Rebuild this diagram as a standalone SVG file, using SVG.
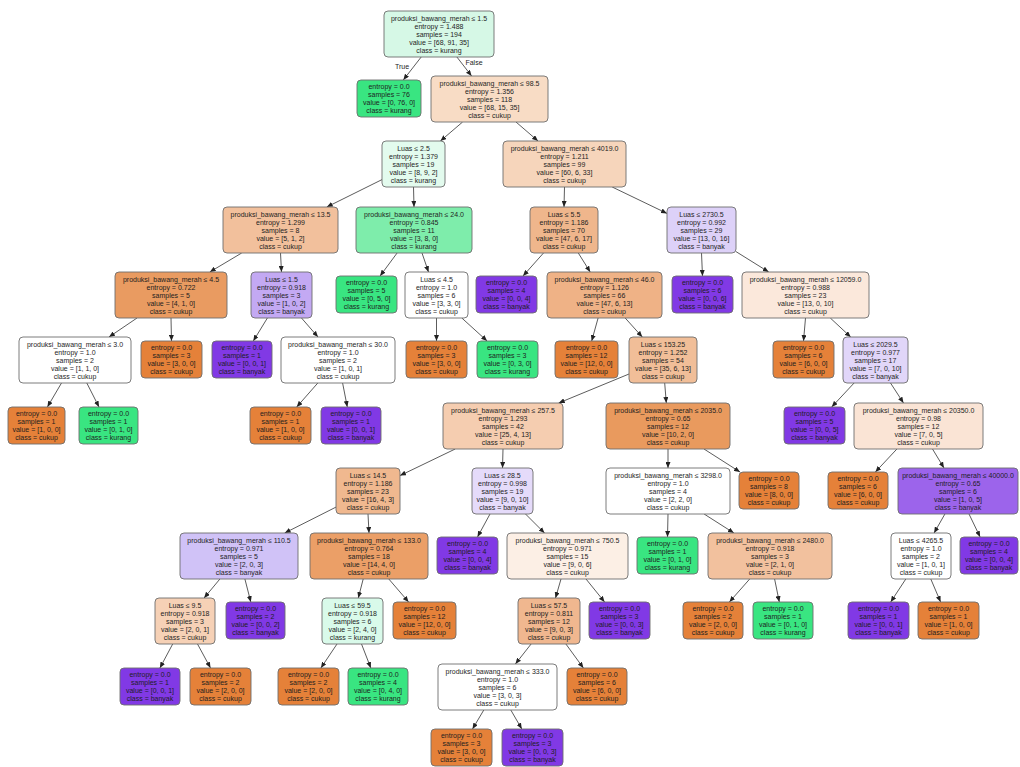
<svg xmlns="http://www.w3.org/2000/svg" width="1020" height="767" viewBox="0 0 1020 767">
<style>
rect{stroke:#6e6e6e;stroke-width:0.9}
text{font-family:"Liberation Sans",Arial,sans-serif;font-size:7px;fill:#1e1e1e;text-anchor:middle}
.o{fill:#e58139}.g{fill:#39e581}.p{fill:#8139e5}.w{fill:#ffffff}
#edges line{stroke:#4a4a4a;stroke-width:0.9;marker-end:url(#ah)}
</style>
<defs>
<marker id="ah" markerWidth="6" markerHeight="5" refX="6" refY="2.5" orient="auto" markerUnits="userSpaceOnUse"><path d="M0,0L6,2.5L0,5z" fill="#222"/></marker>
</defs>
<rect x="0" y="0" width="1020" height="767" style="fill:#fff;stroke:none"/>
<g id="edges">
<line x1="421.2" y1="57" x2="403.3" y2="80"/>
<line x1="456.9" y1="57" x2="471.6" y2="76"/>
<line x1="462.6" y1="122" x2="440.4" y2="141"/>
<line x1="516" y1="122" x2="538" y2="141"/>
<line x1="382" y1="179.6" x2="326.8" y2="207"/>
<line x1="413.5" y1="187" x2="414" y2="207"/>
<line x1="564.5" y1="187" x2="564" y2="207"/>
<line x1="612.2" y1="187" x2="667" y2="213.4"/>
<line x1="241.7" y1="253" x2="209.8" y2="272"/>
<line x1="280.5" y1="253" x2="281.5" y2="272"/>
<line x1="397.1" y1="253" x2="380.1" y2="276"/>
<line x1="422" y1="253" x2="428.5" y2="272"/>
<line x1="543.5" y1="253" x2="523" y2="276"/>
<line x1="578.3" y1="253" x2="590.2" y2="272"/>
<line x1="701.5" y1="253" x2="702.5" y2="276"/>
<line x1="736" y1="251.6" x2="768.7" y2="272"/>
<line x1="137" y1="318" x2="109" y2="337"/>
<line x1="171" y1="318" x2="171.5" y2="341"/>
<line x1="267.4" y1="318" x2="253.3" y2="341"/>
<line x1="301.5" y1="318" x2="318" y2="337"/>
<line x1="436.5" y1="318" x2="436.5" y2="341"/>
<line x1="461.8" y1="318" x2="487.1" y2="341"/>
<line x1="598.1" y1="318" x2="591.7" y2="341"/>
<line x1="625.2" y1="318" x2="642.3" y2="337"/>
<line x1="805.5" y1="318" x2="803.5" y2="341"/>
<line x1="830.3" y1="318" x2="850.7" y2="337"/>
<line x1="61.5" y1="383" x2="47.4" y2="407"/>
<line x1="86.8" y1="383" x2="99" y2="407"/>
<line x1="317.8" y1="383" x2="296.7" y2="407"/>
<line x1="342.6" y1="383" x2="347.3" y2="407"/>
<line x1="629" y1="374" x2="558.7" y2="403"/>
<line x1="664.7" y1="383" x2="666.3" y2="403"/>
<line x1="854.1" y1="383" x2="831.7" y2="407"/>
<line x1="890.5" y1="383" x2="903.5" y2="403"/>
<line x1="455.2" y1="449" x2="400" y2="475.6"/>
<line x1="503" y1="449" x2="502.5" y2="468"/>
<line x1="668" y1="449" x2="668" y2="468"/>
<line x1="704" y1="449" x2="740" y2="472"/>
<line x1="896.9" y1="449" x2="875.4" y2="472"/>
<line x1="932.5" y1="449" x2="944" y2="468"/>
<line x1="336" y1="507.1" x2="284.7" y2="533"/>
<line x1="368" y1="514" x2="369" y2="533"/>
<line x1="490" y1="514" x2="477.5" y2="537"/>
<line x1="525.5" y1="514" x2="544.5" y2="533"/>
<line x1="668" y1="514" x2="667.5" y2="537"/>
<line x1="704.1" y1="514" x2="733.9" y2="533"/>
<line x1="944.9" y1="514" x2="934.1" y2="533"/>
<line x1="969" y1="514" x2="980.1" y2="537"/>
<line x1="219.9" y1="579" x2="204.1" y2="598"/>
<line x1="244.9" y1="579" x2="250.8" y2="602"/>
<line x1="363.2" y1="579" x2="358.3" y2="598"/>
<line x1="388.8" y1="579" x2="408.6" y2="602"/>
<line x1="561" y1="579" x2="555.5" y2="598"/>
<line x1="586" y1="579" x2="604.6" y2="602"/>
<line x1="749.7" y1="579" x2="729.4" y2="602"/>
<line x1="774.6" y1="579" x2="779.3" y2="602"/>
<line x1="905.8" y1="579" x2="890.7" y2="602"/>
<line x1="930.8" y1="579" x2="940.6" y2="602"/>
<line x1="172.7" y1="644" x2="159.9" y2="668"/>
<line x1="197.5" y1="644" x2="210.5" y2="668"/>
<line x1="337" y1="644" x2="320.9" y2="668"/>
<line x1="361.5" y1="644" x2="370.8" y2="668"/>
<line x1="531.1" y1="644" x2="515.4" y2="664"/>
<line x1="565.9" y1="644" x2="583.4" y2="668"/>
<line x1="483.8" y1="710" x2="472.5" y2="729"/>
<line x1="510.8" y1="710" x2="521.8" y2="729"/>
<text x="402" y="69">True</text>
<text x="474" y="65">False</text>
</g>
<g id="n0"><rect x="384" y="11" width="110" height="46" rx="4" fill="#d6f8e6"/><text x="439" y="20.5"><tspan x="439">produksi_bawang_merah ≤ 1.5</tspan><tspan x="439" dy="8">entropy = 1.488</tspan><tspan x="439" dy="8">samples = 194</tspan><tspan x="439" dy="8">value = [68, 91, 35]</tspan><tspan x="439" dy="8">class = kurang</tspan></text></g>
<g id="n1"><rect class="g" x="357" y="80" width="64" height="37" rx="4"/><text x="389" y="89"><tspan x="389">entropy = 0.0</tspan><tspan x="389" dy="8">samples = 76</tspan><tspan x="389" dy="8">value = [0, 76, 0]</tspan><tspan x="389" dy="8">class = kurang</tspan></text></g>
<g id="n2"><rect x="431" y="76" width="117" height="46" rx="4" fill="#f8dcc5"/><text x="489.5" y="85.5"><tspan x="489.5">produksi_bawang_merah ≤ 98.5</tspan><tspan x="489.5" dy="8">entropy = 1.356</tspan><tspan x="489.5" dy="8">samples = 118</tspan><tspan x="489.5" dy="8">value = [68, 15, 35]</tspan><tspan x="489.5" dy="8">class = cukup</tspan></text></g>
<g id="n3"><rect x="382" y="141" width="63" height="46" rx="4" fill="#e3fbee"/><text x="413.5" y="150.5"><tspan x="413.5">Luas ≤ 2.5</tspan><tspan x="413.5" dy="8">entropy = 1.379</tspan><tspan x="413.5" dy="8">samples = 19</tspan><tspan x="413.5" dy="8">value = [8, 9, 2]</tspan><tspan x="413.5" dy="8">class = kurang</tspan></text></g>
<g id="n4"><rect x="503" y="141" width="123" height="46" rx="4" fill="#f6d5bb"/><text x="564.5" y="150.5"><tspan x="564.5">produksi_bawang_merah ≤ 4019.0</tspan><tspan x="564.5" dy="8">entropy = 1.211</tspan><tspan x="564.5" dy="8">samples = 99</tspan><tspan x="564.5" dy="8">value = [60, 6, 33]</tspan><tspan x="564.5" dy="8">class = cukup</tspan></text></g>
<g id="n5"><rect x="223" y="207" width="115" height="46" rx="4" fill="#f2c09c"/><text x="280.5" y="216.5"><tspan x="280.5">produksi_bawang_merah ≤ 13.5</tspan><tspan x="280.5" dy="8">entropy = 1.299</tspan><tspan x="280.5" dy="8">samples = 8</tspan><tspan x="280.5" dy="8">value = [5, 1, 2]</tspan><tspan x="280.5" dy="8">class = cukup</tspan></text></g>
<g id="n6"><rect x="356" y="207" width="116" height="46" rx="4" fill="#7eedab"/><text x="414" y="216.5"><tspan x="414">produksi_bawang_merah ≤ 24.0</tspan><tspan x="414" dy="8">entropy = 0.845</tspan><tspan x="414" dy="8">samples = 11</tspan><tspan x="414" dy="8">value = [3, 8, 0]</tspan><tspan x="414" dy="8">class = kurang</tspan></text></g>
<g id="n7"><rect x="530" y="207" width="68" height="46" rx="4" fill="#efb68c"/><text x="564" y="216.5"><tspan x="564">Luas ≤ 5.5</tspan><tspan x="564" dy="8">entropy = 1.186</tspan><tspan x="564" dy="8">samples = 70</tspan><tspan x="564" dy="8">value = [47, 6, 17]</tspan><tspan x="564" dy="8">class = cukup</tspan></text></g>
<g id="n8"><rect x="667" y="207" width="69" height="46" rx="4" fill="#ddd1f8"/><text x="701.5" y="216.5"><tspan x="701.5">Luas ≤ 2730.5</tspan><tspan x="701.5" dy="8">entropy = 0.992</tspan><tspan x="701.5" dy="8">samples = 29</tspan><tspan x="701.5" dy="8">value = [13, 0, 16]</tspan><tspan x="701.5" dy="8">class = banyak</tspan></text></g>
<g id="n9"><rect x="115" y="272" width="112" height="46" rx="4" fill="#e99b61"/><text x="171" y="281.5"><tspan x="171">produksi_bawang_merah ≤ 4.5</tspan><tspan x="171" dy="8">entropy = 0.722</tspan><tspan x="171" dy="8">samples = 5</tspan><tspan x="171" dy="8">value = [4, 1, 0]</tspan><tspan x="171" dy="8">class = cukup</tspan></text></g>
<g id="n10"><rect x="251" y="272" width="61" height="46" rx="4" fill="#c3a9f3"/><text x="281.5" y="281.5"><tspan x="281.5">Luas ≤ 1.5</tspan><tspan x="281.5" dy="8">entropy = 0.918</tspan><tspan x="281.5" dy="8">samples = 3</tspan><tspan x="281.5" dy="8">value = [1, 0, 2]</tspan><tspan x="281.5" dy="8">class = banyak</tspan></text></g>
<g id="n11"><rect class="g" x="336" y="276" width="61" height="37" rx="4"/><text x="366.5" y="285"><tspan x="366.5">entropy = 0.0</tspan><tspan x="366.5" dy="8">samples = 5</tspan><tspan x="366.5" dy="8">value = [0, 5, 0]</tspan><tspan x="366.5" dy="8">class = kurang</tspan></text></g>
<g id="n12"><rect class="w" x="405" y="272" width="63" height="46" rx="4"/><text x="436.5" y="281.5"><tspan x="436.5">Luas ≤ 4.5</tspan><tspan x="436.5" dy="8">entropy = 1.0</tspan><tspan x="436.5" dy="8">samples = 6</tspan><tspan x="436.5" dy="8">value = [3, 3, 0]</tspan><tspan x="436.5" dy="8">class = cukup</tspan></text></g>
<g id="n13"><rect class="p" x="476" y="276" width="61" height="37" rx="4"/><text x="506.5" y="285"><tspan x="506.5">entropy = 0.0</tspan><tspan x="506.5" dy="8">samples = 4</tspan><tspan x="506.5" dy="8">value = [0, 0, 4]</tspan><tspan x="506.5" dy="8">class = banyak</tspan></text></g>
<g id="n14"><rect x="547" y="272" width="115" height="46" rx="4" fill="#efb286"/><text x="604.5" y="281.5"><tspan x="604.5">produksi_bawang_merah ≤ 46.0</tspan><tspan x="604.5" dy="8">entropy = 1.126</tspan><tspan x="604.5" dy="8">samples = 66</tspan><tspan x="604.5" dy="8">value = [47, 6, 13]</tspan><tspan x="604.5" dy="8">class = cukup</tspan></text></g>
<g id="n15"><rect class="p" x="672" y="276" width="61" height="37" rx="4"/><text x="702.5" y="285"><tspan x="702.5">entropy = 0.0</tspan><tspan x="702.5" dy="8">samples = 6</tspan><tspan x="702.5" dy="8">value = [0, 0, 6]</tspan><tspan x="702.5" dy="8">class = banyak</tspan></text></g>
<g id="n16"><rect x="742" y="272" width="127" height="46" rx="4" fill="#fbe8db"/><text x="805.5" y="281.5"><tspan x="805.5">produksi_bawang_merah ≤ 12059.0</tspan><tspan x="805.5" dy="8">entropy = 0.988</tspan><tspan x="805.5" dy="8">samples = 23</tspan><tspan x="805.5" dy="8">value = [13, 0, 10]</tspan><tspan x="805.5" dy="8">class = cukup</tspan></text></g>
<g id="n17"><rect class="w" x="19" y="337" width="112" height="46" rx="4"/><text x="75" y="346.5"><tspan x="75">produksi_bawang_merah ≤ 3.0</tspan><tspan x="75" dy="8">entropy = 1.0</tspan><tspan x="75" dy="8">samples = 2</tspan><tspan x="75" dy="8">value = [1, 1, 0]</tspan><tspan x="75" dy="8">class = cukup</tspan></text></g>
<g id="n18"><rect class="o" x="141" y="341" width="61" height="37" rx="4"/><text x="171.5" y="350"><tspan x="171.5">entropy = 0.0</tspan><tspan x="171.5" dy="8">samples = 3</tspan><tspan x="171.5" dy="8">value = [3, 0, 0]</tspan><tspan x="171.5" dy="8">class = cukup</tspan></text></g>
<g id="n19"><rect class="p" x="212" y="341" width="60" height="37" rx="4"/><text x="242" y="350"><tspan x="242">entropy = 0.0</tspan><tspan x="242" dy="8">samples = 1</tspan><tspan x="242" dy="8">value = [0, 0, 1]</tspan><tspan x="242" dy="8">class = banyak</tspan></text></g>
<g id="n20"><rect class="w" x="281" y="337" width="114" height="46" rx="4"/><text x="338" y="346.5"><tspan x="338">produksi_bawang_merah ≤ 30.0</tspan><tspan x="338" dy="8">entropy = 1.0</tspan><tspan x="338" dy="8">samples = 2</tspan><tspan x="338" dy="8">value = [1, 0, 1]</tspan><tspan x="338" dy="8">class = cukup</tspan></text></g>
<g id="n21"><rect class="o" x="406" y="341" width="61" height="37" rx="4"/><text x="436.5" y="350"><tspan x="436.5">entropy = 0.0</tspan><tspan x="436.5" dy="8">samples = 3</tspan><tspan x="436.5" dy="8">value = [3, 0, 0]</tspan><tspan x="436.5" dy="8">class = cukup</tspan></text></g>
<g id="n22"><rect class="g" x="477" y="341" width="61" height="37" rx="4"/><text x="507.5" y="350"><tspan x="507.5">entropy = 0.0</tspan><tspan x="507.5" dy="8">samples = 3</tspan><tspan x="507.5" dy="8">value = [0, 3, 0]</tspan><tspan x="507.5" dy="8">class = kurang</tspan></text></g>
<g id="n23"><rect class="o" x="555" y="341" width="63" height="37" rx="4"/><text x="586.5" y="350"><tspan x="586.5">entropy = 0.0</tspan><tspan x="586.5" dy="8">samples = 12</tspan><tspan x="586.5" dy="8">value = [12, 0, 0]</tspan><tspan x="586.5" dy="8">class = cukup</tspan></text></g>
<g id="n24"><rect x="629" y="337" width="68" height="46" rx="4" fill="#f1be98"/><text x="663" y="346.5"><tspan x="663">Luas ≤ 153.25</tspan><tspan x="663" dy="8">entropy = 1.252</tspan><tspan x="663" dy="8">samples = 54</tspan><tspan x="663" dy="8">value = [35, 6, 13]</tspan><tspan x="663" dy="8">class = cukup</tspan></text></g>
<g id="n25"><rect class="o" x="773" y="341" width="61" height="37" rx="4"/><text x="803.5" y="350"><tspan x="803.5">entropy = 0.0</tspan><tspan x="803.5" dy="8">samples = 6</tspan><tspan x="803.5" dy="8">value = [6, 0, 0]</tspan><tspan x="803.5" dy="8">class = cukup</tspan></text></g>
<g id="n26"><rect x="843" y="337" width="65" height="46" rx="4" fill="#e1d6f9"/><text x="875.5" y="346.5"><tspan x="875.5">Luas ≤ 2029.5</tspan><tspan x="875.5" dy="8">entropy = 0.977</tspan><tspan x="875.5" dy="8">samples = 17</tspan><tspan x="875.5" dy="8">value = [7, 0, 10]</tspan><tspan x="875.5" dy="8">class = banyak</tspan></text></g>
<g id="n27"><rect class="o" x="8" y="407" width="57" height="37" rx="4"/><text x="36.5" y="416"><tspan x="36.5">entropy = 0.0</tspan><tspan x="36.5" dy="8">samples = 1</tspan><tspan x="36.5" dy="8">value = [1, 0, 0]</tspan><tspan x="36.5" dy="8">class = cukup</tspan></text></g>
<g id="n28"><rect class="g" x="79" y="407" width="59" height="37" rx="4"/><text x="108.5" y="416"><tspan x="108.5">entropy = 0.0</tspan><tspan x="108.5" dy="8">samples = 1</tspan><tspan x="108.5" dy="8">value = [0, 1, 0]</tspan><tspan x="108.5" dy="8">class = kurang</tspan></text></g>
<g id="n29"><rect class="o" x="250" y="407" width="61" height="37" rx="4"/><text x="280.5" y="416"><tspan x="280.5">entropy = 0.0</tspan><tspan x="280.5" dy="8">samples = 1</tspan><tspan x="280.5" dy="8">value = [1, 0, 0]</tspan><tspan x="280.5" dy="8">class = cukup</tspan></text></g>
<g id="n30"><rect class="p" x="321" y="407" width="60" height="37" rx="4"/><text x="351" y="416"><tspan x="351">entropy = 0.0</tspan><tspan x="351" dy="8">samples = 1</tspan><tspan x="351" dy="8">value = [0, 0, 1]</tspan><tspan x="351" dy="8">class = banyak</tspan></text></g>
<g id="n31"><rect x="443" y="403" width="120" height="46" rx="4" fill="#f5cdb0"/><text x="503" y="412.5"><tspan x="503">produksi_bawang_merah ≤ 257.5</tspan><tspan x="503" dy="8">entropy = 1.293</tspan><tspan x="503" dy="8">samples = 42</tspan><tspan x="503" dy="8">value = [25, 4, 13]</tspan><tspan x="503" dy="8">class = cukup</tspan></text></g>
<g id="n32"><rect x="606" y="403" width="124" height="46" rx="4" fill="#e99a5e"/><text x="668" y="412.5"><tspan x="668">produksi_bawang_merah ≤ 2035.0</tspan><tspan x="668" dy="8">entropy = 0.65</tspan><tspan x="668" dy="8">samples = 12</tspan><tspan x="668" dy="8">value = [10, 2, 0]</tspan><tspan x="668" dy="8">class = cukup</tspan></text></g>
<g id="n33"><rect class="p" x="784" y="407" width="61" height="37" rx="4"/><text x="814.5" y="416"><tspan x="814.5">entropy = 0.0</tspan><tspan x="814.5" dy="8">samples = 5</tspan><tspan x="814.5" dy="8">value = [0, 0, 5]</tspan><tspan x="814.5" dy="8">class = banyak</tspan></text></g>
<g id="n34"><rect x="854" y="403" width="129" height="46" rx="4" fill="#fae4d5"/><text x="918.5" y="412.5"><tspan x="918.5">produksi_bawang_merah ≤ 20350.0</tspan><tspan x="918.5" dy="8">entropy = 0.98</tspan><tspan x="918.5" dy="8">samples = 12</tspan><tspan x="918.5" dy="8">value = [7, 0, 5]</tspan><tspan x="918.5" dy="8">class = cukup</tspan></text></g>
<g id="n35"><rect x="336" y="468" width="64" height="46" rx="4" fill="#f0b88f"/><text x="368" y="477.5"><tspan x="368">Luas ≤ 14.5</tspan><tspan x="368" dy="8">entropy = 1.186</tspan><tspan x="368" dy="8">samples = 23</tspan><tspan x="368" dy="8">value = [16, 4, 3]</tspan><tspan x="368" dy="8">class = cukup</tspan></text></g>
<g id="n36"><rect x="472" y="468" width="61" height="46" rx="4" fill="#e5dbfa"/><text x="502.5" y="477.5"><tspan x="502.5">Luas ≤ 28.5</tspan><tspan x="502.5" dy="8">entropy = 0.998</tspan><tspan x="502.5" dy="8">samples = 19</tspan><tspan x="502.5" dy="8">value = [9, 0, 10]</tspan><tspan x="502.5" dy="8">class = banyak</tspan></text></g>
<g id="n37"><rect class="w" x="606" y="468" width="124" height="46" rx="4"/><text x="668" y="477.5"><tspan x="668">produksi_bawang_merah ≤ 3298.0</tspan><tspan x="668" dy="8">entropy = 1.0</tspan><tspan x="668" dy="8">samples = 4</tspan><tspan x="668" dy="8">value = [2, 2, 0]</tspan><tspan x="668" dy="8">class = cukup</tspan></text></g>
<g id="n38"><rect class="o" x="739" y="472" width="60" height="37" rx="4"/><text x="769" y="481"><tspan x="769">entropy = 0.0</tspan><tspan x="769" dy="8">samples = 8</tspan><tspan x="769" dy="8">value = [8, 0, 0]</tspan><tspan x="769" dy="8">class = cukup</tspan></text></g>
<g id="n39"><rect class="o" x="828" y="472" width="60" height="37" rx="4"/><text x="858" y="481"><tspan x="858">entropy = 0.0</tspan><tspan x="858" dy="8">samples = 6</tspan><tspan x="858" dy="8">value = [6, 0, 0]</tspan><tspan x="858" dy="8">class = cukup</tspan></text></g>
<g id="n40"><rect x="898" y="468" width="120" height="46" rx="4" fill="#9c64eb"/><text x="958" y="477.5"><tspan x="958">produksi_bawang_merah ≤ 40000.0</tspan><tspan x="958" dy="8">entropy = 0.65</tspan><tspan x="958" dy="8">samples = 6</tspan><tspan x="958" dy="8">value = [1, 0, 5]</tspan><tspan x="958" dy="8">class = banyak</tspan></text></g>
<g id="n41"><rect x="180" y="533" width="118" height="46" rx="4" fill="#d0c2f7"/><text x="239" y="542.5"><tspan x="239">produksi_bawang_merah ≤ 110.5</tspan><tspan x="239" dy="8">entropy = 0.971</tspan><tspan x="239" dy="8">samples = 5</tspan><tspan x="239" dy="8">value = [2, 0, 3]</tspan><tspan x="239" dy="8">class = banyak</tspan></text></g>
<g id="n42"><rect x="310" y="533" width="118" height="46" rx="4" fill="#eb9f67"/><text x="369" y="542.5"><tspan x="369">produksi_bawang_merah ≤ 133.0</tspan><tspan x="369" dy="8">entropy = 0.764</tspan><tspan x="369" dy="8">samples = 18</tspan><tspan x="369" dy="8">value = [14, 4, 0]</tspan><tspan x="369" dy="8">class = cukup</tspan></text></g>
<g id="n43"><rect class="p" x="437" y="537" width="61" height="37" rx="4"/><text x="467.5" y="546"><tspan x="467.5">entropy = 0.0</tspan><tspan x="467.5" dy="8">samples = 4</tspan><tspan x="467.5" dy="8">value = [0, 0, 4]</tspan><tspan x="467.5" dy="8">class = banyak</tspan></text></g>
<g id="n44"><rect x="507" y="533" width="121" height="46" rx="4" fill="#fcefe5"/><text x="567.5" y="542.5"><tspan x="567.5">produksi_bawang_merah ≤ 750.5</tspan><tspan x="567.5" dy="8">entropy = 0.971</tspan><tspan x="567.5" dy="8">samples = 15</tspan><tspan x="567.5" dy="8">value = [9, 0, 6]</tspan><tspan x="567.5" dy="8">class = cukup</tspan></text></g>
<g id="n45"><rect class="g" x="637" y="537" width="61" height="37" rx="4"/><text x="667.5" y="546"><tspan x="667.5">entropy = 0.0</tspan><tspan x="667.5" dy="8">samples = 1</tspan><tspan x="667.5" dy="8">value = [0, 1, 0]</tspan><tspan x="667.5" dy="8">class = kurang</tspan></text></g>
<g id="n46"><rect x="708" y="533" width="124" height="46" rx="4" fill="#f2c19e"/><text x="770" y="542.5"><tspan x="770">produksi_bawang_merah ≤ 2480.0</tspan><tspan x="770" dy="8">entropy = 0.918</tspan><tspan x="770" dy="8">samples = 3</tspan><tspan x="770" dy="8">value = [2, 1, 0]</tspan><tspan x="770" dy="8">class = cukup</tspan></text></g>
<g id="n47"><rect class="w" x="891" y="533" width="60" height="46" rx="4"/><text x="921" y="542.5"><tspan x="921">Luas ≤ 4265.5</tspan><tspan x="921" dy="8">entropy = 1.0</tspan><tspan x="921" dy="8">samples = 2</tspan><tspan x="921" dy="8">value = [1, 0, 1]</tspan><tspan x="921" dy="8">class = cukup</tspan></text></g>
<g id="n48"><rect class="p" x="960" y="537" width="58" height="37" rx="4"/><text x="989" y="546"><tspan x="989">entropy = 0.0</tspan><tspan x="989" dy="8">samples = 4</tspan><tspan x="989" dy="8">value = [0, 0, 4]</tspan><tspan x="989" dy="8">class = banyak</tspan></text></g>
<g id="n49"><rect x="155" y="598" width="60" height="46" rx="4" fill="#f6d1b6"/><text x="185" y="607.5"><tspan x="185">Luas ≤ 9.5</tspan><tspan x="185" dy="8">entropy = 0.918</tspan><tspan x="185" dy="8">samples = 3</tspan><tspan x="185" dy="8">value = [2, 0, 1]</tspan><tspan x="185" dy="8">class = cukup</tspan></text></g>
<g id="n50"><rect class="p" x="226" y="602" width="59" height="37" rx="4"/><text x="255.5" y="611"><tspan x="255.5">entropy = 0.0</tspan><tspan x="255.5" dy="8">samples = 2</tspan><tspan x="255.5" dy="8">value = [0, 0, 2]</tspan><tspan x="255.5" dy="8">class = banyak</tspan></text></g>
<g id="n51"><rect x="322" y="598" width="61" height="46" rx="4" fill="#d9faea"/><text x="352.5" y="607.5"><tspan x="352.5">Luas ≤ 59.5</tspan><tspan x="352.5" dy="8">entropy = 0.918</tspan><tspan x="352.5" dy="8">samples = 6</tspan><tspan x="352.5" dy="8">value = [2, 4, 0]</tspan><tspan x="352.5" dy="8">class = kurang</tspan></text></g>
<g id="n52"><rect class="o" x="393" y="602" width="63" height="37" rx="4"/><text x="424.5" y="611"><tspan x="424.5">entropy = 0.0</tspan><tspan x="424.5" dy="8">samples = 12</tspan><tspan x="424.5" dy="8">value = [12, 0, 0]</tspan><tspan x="424.5" dy="8">class = cukup</tspan></text></g>
<g id="n53"><rect x="518" y="598" width="62" height="46" rx="4" fill="#f0b78f"/><text x="549" y="607.5"><tspan x="549">Luas ≤ 57.5</tspan><tspan x="549" dy="8">entropy = 0.811</tspan><tspan x="549" dy="8">samples = 12</tspan><tspan x="549" dy="8">value = [9, 0, 3]</tspan><tspan x="549" dy="8">class = cukup</tspan></text></g>
<g id="n54"><rect class="p" x="589" y="602" width="61" height="37" rx="4"/><text x="619.5" y="611"><tspan x="619.5">entropy = 0.0</tspan><tspan x="619.5" dy="8">samples = 3</tspan><tspan x="619.5" dy="8">value = [0, 0, 3]</tspan><tspan x="619.5" dy="8">class = banyak</tspan></text></g>
<g id="n55"><rect class="o" x="683" y="602" width="60" height="37" rx="4"/><text x="713" y="611"><tspan x="713">entropy = 0.0</tspan><tspan x="713" dy="8">samples = 2</tspan><tspan x="713" dy="8">value = [2, 0, 0]</tspan><tspan x="713" dy="8">class = cukup</tspan></text></g>
<g id="n56"><rect class="g" x="753" y="602" width="60" height="37" rx="4"/><text x="783" y="611"><tspan x="783">entropy = 0.0</tspan><tspan x="783" dy="8">samples = 1</tspan><tspan x="783" dy="8">value = [0, 1, 0]</tspan><tspan x="783" dy="8">class = kurang</tspan></text></g>
<g id="n57"><rect class="p" x="848" y="602" width="61" height="37" rx="4"/><text x="878.5" y="611"><tspan x="878.5">entropy = 0.0</tspan><tspan x="878.5" dy="8">samples = 1</tspan><tspan x="878.5" dy="8">value = [0, 0, 1]</tspan><tspan x="878.5" dy="8">class = banyak</tspan></text></g>
<g id="n58"><rect class="o" x="918" y="602" width="61" height="37" rx="4"/><text x="948.5" y="611"><tspan x="948.5">entropy = 0.0</tspan><tspan x="948.5" dy="8">samples = 1</tspan><tspan x="948.5" dy="8">value = [1, 0, 0]</tspan><tspan x="948.5" dy="8">class = cukup</tspan></text></g>
<g id="n59"><rect class="p" x="120" y="668" width="60" height="37" rx="4"/><text x="150" y="677"><tspan x="150">entropy = 0.0</tspan><tspan x="150" dy="8">samples = 1</tspan><tspan x="150" dy="8">value = [0, 0, 1]</tspan><tspan x="150" dy="8">class = banyak</tspan></text></g>
<g id="n60"><rect class="o" x="190" y="668" width="61" height="37" rx="4"/><text x="220.5" y="677"><tspan x="220.5">entropy = 0.0</tspan><tspan x="220.5" dy="8">samples = 2</tspan><tspan x="220.5" dy="8">value = [2, 0, 0]</tspan><tspan x="220.5" dy="8">class = cukup</tspan></text></g>
<g id="n61"><rect class="o" x="278" y="668" width="61" height="37" rx="4"/><text x="308.5" y="677"><tspan x="308.5">entropy = 0.0</tspan><tspan x="308.5" dy="8">samples = 2</tspan><tspan x="308.5" dy="8">value = [2, 0, 0]</tspan><tspan x="308.5" dy="8">class = cukup</tspan></text></g>
<g id="n62"><rect class="g" x="348" y="668" width="60" height="37" rx="4"/><text x="378" y="677"><tspan x="378">entropy = 0.0</tspan><tspan x="378" dy="8">samples = 4</tspan><tspan x="378" dy="8">value = [0, 4, 0]</tspan><tspan x="378" dy="8">class = kurang</tspan></text></g>
<g id="n63"><rect class="w" x="438" y="664" width="119" height="46" rx="4"/><text x="497.5" y="673.5"><tspan x="497.5">produksi_bawang_merah ≤ 333.0</tspan><tspan x="497.5" dy="8">entropy = 1.0</tspan><tspan x="497.5" dy="8">samples = 6</tspan><tspan x="497.5" dy="8">value = [3, 0, 3]</tspan><tspan x="497.5" dy="8">class = cukup</tspan></text></g>
<g id="n64"><rect class="o" x="567" y="668" width="60" height="37" rx="4"/><text x="597" y="677"><tspan x="597">entropy = 0.0</tspan><tspan x="597" dy="8">samples = 6</tspan><tspan x="597" dy="8">value = [6, 0, 0]</tspan><tspan x="597" dy="8">class = cukup</tspan></text></g>
<g id="n65"><rect class="o" x="431" y="729" width="61" height="37" rx="4"/><text x="461.5" y="738"><tspan x="461.5">entropy = 0.0</tspan><tspan x="461.5" dy="8">samples = 3</tspan><tspan x="461.5" dy="8">value = [3, 0, 0]</tspan><tspan x="461.5" dy="8">class = cukup</tspan></text></g>
<g id="n66"><rect class="p" x="502" y="729" width="61" height="37" rx="4"/><text x="532.5" y="738"><tspan x="532.5">entropy = 0.0</tspan><tspan x="532.5" dy="8">samples = 3</tspan><tspan x="532.5" dy="8">value = [0, 0, 3]</tspan><tspan x="532.5" dy="8">class = banyak</tspan></text></g>
</svg>
